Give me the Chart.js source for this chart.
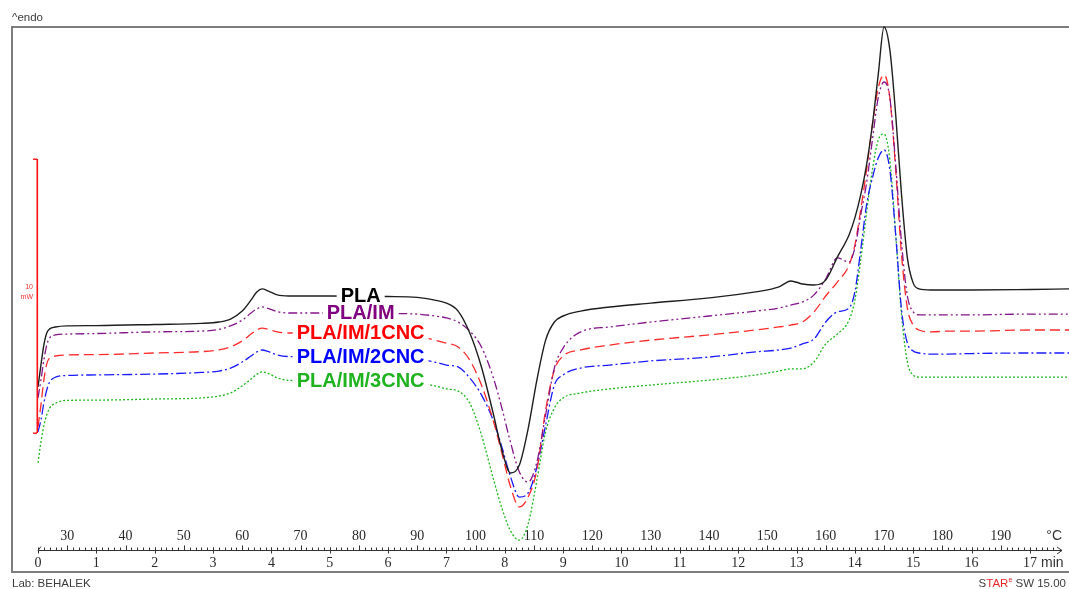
<!DOCTYPE html>
<html>
<head>
<meta charset="utf-8">
<title>DSC heating scan</title>
<script src="https://cdn.jsdelivr.net/npm/chart.js@4"></script>
<style>
  html, body { margin: 0; padding: 0; background: #fff; }
  body { width: 1069px; height: 589px; position: relative; overflow: hidden;
         font-family: "Liberation Sans", Arial, sans-serif; }
  #frame { position: absolute; left: 11px; top: 26px; width: 1056px; height: 543px;
           border-left: 2px solid #7d7d7d; border-top: 2px solid #7d7d7d; border-bottom: 2px solid #7d7d7d; }
  #chart { position: absolute; left: 0; top: 0; }
  .note { position: absolute; font-size: 11.5px; line-height: 12px; color: #3c3c3c; white-space: nowrap; }
  .unit { position: absolute; font-size: 14px; line-height: 14px; color: #333; white-space: nowrap; }
  .red { color: #e8262b; }
  .sup { font-size: 7px; line-height: 0; position: relative; top: -5px; }
</style>
</head>
<body>
<div id="frame"></div>
<canvas id="chart" width="1069" height="589"></canvas>
<div class="note" style="left:12px;top:11px;">^endo</div>
<div class="note" style="left:12px;top:577px;">Lab: BEHALEK</div>
<div class="note" style="right:3px;top:577px;">S<span class="red">TAR<span class="sup">e</span></span> SW 15.00</div>
<div class="unit" style="right:7px;top:528px;">°C</div>
<div class="unit" style="left:1041px;top:555px;">min</div>
<script>
// Time axis (min) shared by all five heating curves
const timeMin = [0, 0.05, 0.1, 0.15, 0.2, 0.3, 0.5, 1, 2, 2.8,
  3.1, 3.3, 3.5, 3.65, 3.75, 3.84, 3.95, 4.1, 4.3, 5,
  6, 6.5, 6.8, 7.0, 7.2, 7.4, 7.6, 7.8, 7.95, 8.1,
  8.25, 8.4, 8.55, 8.7, 8.85, 9.0, 9.3, 9.8, 10.5, 11.5,
  12.3, 12.7, 12.9, 13.1, 13.3, 13.5, 13.7, 13.9, 14.0, 14.1,
  14.2, 14.3, 14.4, 14.5, 14.6, 14.7, 14.8, 14.9, 15.0, 15.1,
  15.3, 15.6, 16, 17, 17.67];

// Heat flow (mW, endo up, curves offset as plotted)
const hfPLA = [1.68, 2.48, 3.21, 3.65, 3.80, 3.87, 3.91, 3.92, 3.96, 4.00,
  4.05, 4.16, 4.45, 4.85, 5.15, 5.26, 5.18, 5.04, 5.00, 5.00,
  4.98, 4.95, 4.85, 4.74, 4.45, 3.65, 2.41, 0.73, -0.62, -1.46,
  -1.17, 0.15, 1.93, 3.39, 4.05, 4.27, 4.45, 4.60, 4.74, 4.93,
  5.15, 5.33, 5.55, 5.44, 5.40, 5.58, 6.42, 7.23, 7.85, 8.69,
  9.78, 11.24, 13.07, 14.82, 13.98, 11.61, 8.69, 6.39, 5.47, 5.26,
  5.22, 5.22, 5.22, 5.24, 5.26];
const hfPLA_IM = [1.28, 1.93, 2.66, 3.21, 3.47, 3.58, 3.61, 3.63, 3.69, 3.72,
  3.78, 3.91, 4.12, 4.38, 4.53, 4.60, 4.54, 4.43, 4.38, 4.38,
  4.36, 4.34, 4.27, 4.20, 4.05, 3.72, 3.14, 2.04, 0.91, -0.36,
  -1.42, -1.79, -1.06, 0.66, 2.37, 3.10, 3.69, 3.87, 4.05, 4.27,
  4.45, 4.56, 4.67, 4.78, 5.04, 5.62, 6.39, 6.24, 6.75, 7.96,
  9.12, 10.69, 12.23, 12.81, 12.23, 9.78, 6.93, 5.00, 4.42, 4.31,
  4.31, 4.31, 4.31, 4.34, 4.34];
const hfPLA_IM_1CNC = [0.22, 1.02, 1.93, 2.52, 2.74, 2.81, 2.85, 2.86, 2.92, 2.97,
  3.03, 3.14, 3.36, 3.61, 3.76, 3.83, 3.78, 3.69, 3.65, 3.65,
  3.61, 3.54, 3.39, 3.28, 3.14, 2.66, 1.75, 0.47, -0.73, -1.97,
  -2.70, -2.34, -1.35, 0.84, 2.30, 2.81, 3.03, 3.21, 3.39, 3.58,
  3.76, 3.87, 3.94, 4.05, 4.42, 5.00, 5.51, 6.13, 6.86, 8.14,
  9.60, 11.24, 12.59, 13.07, 12.23, 9.60, 6.50, 4.56, 3.94, 3.76,
  3.69, 3.72, 3.72, 3.76, 3.76];
const hfPLA_IM_2CNC = [0.04, 0.47, 1.09, 1.57, 1.86, 2.04, 2.10, 2.12, 2.15, 2.21,
  2.26, 2.37, 2.59, 2.81, 2.96, 3.03, 2.97, 2.85, 2.79, 2.77,
  2.76, 2.70, 2.59, 2.48, 2.41, 2.01, 1.39, 0.47, -0.51, -1.61,
  -2.34, -2.19, -1.24, 0.29, 1.75, 2.12, 2.37, 2.48, 2.63, 2.77,
  2.96, 3.03, 3.10, 3.25, 3.43, 4.05, 4.42, 4.56, 5.15, 6.68,
  8.32, 9.31, 10.04, 10.33, 9.60, 7.23, 4.49, 3.28, 2.99, 2.92,
  2.88, 2.88, 2.90, 2.92, 2.92];
const hfPLA_IM_3CNC = [-1.09, -0.33, 0.26, 0.66, 0.91, 1.09, 1.19, 1.20, 1.24, 1.28,
  1.35, 1.46, 1.72, 1.97, 2.14, 2.23, 2.17, 2.01, 1.92, 1.90,
  1.88, 1.82, 1.72, 1.61, 1.53, 1.09, -0.07, -1.64, -2.74, -3.58,
  -3.91, -3.32, -1.72, 0.04, 0.91, 1.28, 1.46, 1.61, 1.75, 1.93,
  2.12, 2.26, 2.34, 2.34, 2.59, 3.25, 3.61, 4.12, 4.85, 6.31,
  8.03, 9.60, 10.69, 10.91, 9.96, 7.23, 4.31, 2.59, 2.12, 2.04,
  2.04, 2.04, 2.04, 2.04, 2.04];

const seriesNames = ['PLA', 'PLA/IM', 'PLA/IM/1CNC', 'PLA/IM/2CNC', 'PLA/IM/3CNC'];

// Axis ticks
const minuteTicks = [0, 1, 2, 3, 4, 5, 6, 7, 8, 9, 10, 11, 12, 13, 14, 15, 16, 17];
const tempTicks = [30, 40, 50, 60, 70, 80, 90, 100, 110, 120, 130, 140, 150, 160, 170, 180, 190];
const startTemp = 25;      // °C at t = 0
const heatingRate = 10;    // K/min
const scaleBarMW = 10;     // height of the heat-flow scale bar

// Styling
const lineColors = ['#1e1e1e', '#84158a', '#ff2a2a', '#1a1aff', '#1cb81c'];
const lineWidths = [1.4, 1.3, 1.3, 1.3, 1.3];
const tagColors = ['#000000', '#800080', '#ff0000', '#0000ff', '#1fb31f'];
const dashes = [[], [9, 3, 2, 3, 2, 3], [10, 5], [10, 3, 2, 3], [2, 2]];
const tagTime = 5.53;

const seriesValues = [hfPLA, hfPLA_IM, hfPLA_IM_1CNC, hfPLA_IM_2CNC, hfPLA_IM_3CNC];
const tMax = 17.67;

function valueAt(arr, t) {
  for (let i = 1; i < timeMin.length; i++) {
    if (timeMin[i] >= t) {
      const f = (t - timeMin[i - 1]) / (timeMin[i] - timeMin[i - 1]);
      return arr[i - 1] + f * (arr[i] - arr[i - 1]);
    }
  }
  return arr[arr.length - 1];
}

const dscOverlay = {
  id: 'dscOverlay',
  afterDatasetsDraw(chart) {
    const { ctx } = chart;
    const xs = chart.scales.x, ys = chart.scales.y;
    ctx.save();
    ctx.setLineDash([]);

    // heat-flow scale bar (red, with end caps)
    const bx = Math.round(chart.chartArea.left) - 1;
    const yTop = Math.round(ys.getPixelForValue(scaleBarMW));
    const yBot = Math.round(ys.getPixelForValue(0));
    ctx.fillStyle = '#ff1010';
    ctx.fillRect(bx - 0.5, yTop, 1.6, yBot - yTop);
    ctx.fillRect(bx - 4, yTop - 0.5, 4, 1.4);
    ctx.fillRect(bx - 4, yBot - 0.5, 4, 1.4);
    ctx.fillStyle = '#f03030';
    ctx.font = '7px "Liberation Sans", Arial, sans-serif';
    ctx.textAlign = 'right';
    ctx.textBaseline = 'middle';
    const mid = (yTop + yBot) / 2;
    ctx.fillText(String(scaleBarMW), bx - 4, mid - 9);
    ctx.fillText('mW', bx - 4, mid + 1);

    // curve names written over the traces
    ctx.font = 'bold 20px "Liberation Sans", Arial, sans-serif';
    ctx.textAlign = 'center';
    seriesNames.forEach((name, i) => {
      const px = xs.getPixelForValue(tagTime);
      const py = ys.getPixelForValue(valueAt(seriesValues[i], tagTime));
      const w = ctx.measureText(name).width + 8;
      ctx.fillStyle = '#fff';
      ctx.fillRect(px - w / 2, py - 8, w, 16);
      ctx.fillStyle = tagColors[i];
      ctx.fillText(name, px, py);
    });
    ctx.restore();
  },
  afterDraw(chart) {
    // combined time / temperature axis line with tick marks
    const { ctx } = chart;
    const xs = chart.scales.x, xt = chart.scales.xT;
    const y = Math.round(xs.top) + 0.5;
    const x0 = xs.getPixelForValue(0);
    const x1 = xs.getPixelForValue(17.55);
    ctx.save();
    ctx.setLineDash([]);
    ctx.strokeStyle = '#333';
    ctx.lineWidth = 1;
    ctx.beginPath();
    ctx.moveTo(x0, y); ctx.lineTo(x1, y);
    // start mark
    ctx.moveTo(x0, y); ctx.lineTo(x0 + 3, y - 4);
    // arrow head
    ctx.moveTo(x1 - 5, y - 3.5); ctx.lineTo(x1, y); ctx.lineTo(x1 - 5, y + 3.5);
    for (let T = 26; T < 200; T++) {
      const px = Math.round(xt.getPixelForValue(T)) + 0.5;
      const h = T % 10 === 0 ? 5 : 3;
      ctx.moveTo(px, y); ctx.lineTo(px, y - h);
    }
    minuteTicks.forEach(m => {
      const px = Math.round(xs.getPixelForValue(m)) + 0.5;
      ctx.moveTo(px, y - 3); ctx.lineTo(px, y + 3);
    });
    ctx.stroke();
    ctx.restore();
  }
};

const axisFont = { family: '"Liberation Serif", "DejaVu Serif", serif', size: 14 };

new Chart(document.getElementById('chart'), {
  type: 'line',
  data: {
    datasets: seriesNames.map((name, i) => ({
      label: name,
      data: timeMin.map((t, k) => ({ x: t, y: seriesValues[i][k] })),
      borderColor: lineColors[i],
      borderWidth: lineWidths[i],
      borderDash: dashes[i],
      pointRadius: 0,
      fill: false,
      cubicInterpolationMode: 'monotone',
      clip: false
    }))
  },
  options: {
    responsive: false,
    animation: false,
    devicePixelRatio: 1,
    layout: { padding: { left: 38, right: 0, top: 27, bottom: 17 } },
    plugins: { legend: { display: false }, tooltip: { enabled: false } },
    scales: {
      x: {
        type: 'linear', position: 'bottom', weight: 1,
        min: 0, max: tMax,
        grid: { display: false }, border: { display: false },
        ticks: { font: axisFont, color: '#2a2a2a', padding: -3, autoSkip: false, maxRotation: 0 },
        afterBuildTicks: s => { s.ticks = minuteTicks.map(v => ({ value: v })); },
        afterFit: s => { s.height = 22; }
      },
      xT: {
        type: 'linear', position: 'bottom', weight: 0,
        min: startTemp, max: startTemp + tMax * heatingRate,
        grid: { display: false }, border: { display: false },
        ticks: { font: axisFont, color: '#2a2a2a', padding: -7, autoSkip: false, maxRotation: 0 },
        afterBuildTicks: s => { s.ticks = tempTicks.map(v => ({ value: v })); },
        afterFit: s => { s.height = 23; }
      },
      y: { type: 'linear', display: false, min: -3.431, max: 14.818 }
    }
  },
  plugins: [dscOverlay]
});
</script>
</body>
</html>
